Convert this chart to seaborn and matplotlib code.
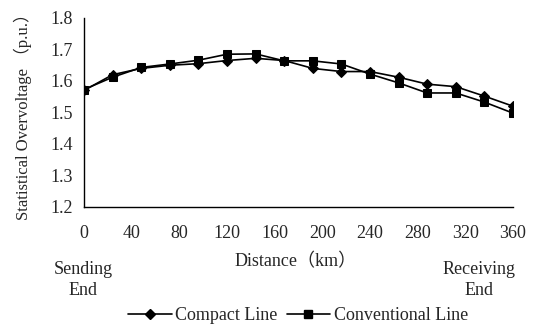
import matplotlib
matplotlib.use("Agg")
import matplotlib.pyplot as plt
import seaborn as sns
import pandas as pd
from matplotlib.lines import Line2D

distance = [0, 24, 48, 72, 96, 120, 144, 168, 192, 216, 240, 264, 288, 312, 336, 360]
compact = [1.570, 1.620, 1.640, 1.650, 1.655, 1.665, 1.672, 1.665, 1.640, 1.630,
           1.630, 1.612, 1.590, 1.582, 1.552, 1.520]
conventional = [1.573, 1.612, 1.643, 1.654, 1.666, 1.685, 1.686, 1.664, 1.664, 1.654,
                1.622, 1.594, 1.562, 1.562, 1.533, 1.498]
series_names = ["Compact Line", "Conventional Line"]
x_ticks = [0, 40, 80, 120, 160, 200, 240, 280, 320, 360]
y_ticks = [1.2, 1.3, 1.4, 1.5, 1.6, 1.7, 1.8]

df = pd.concat([
    pd.DataFrame({"Distance": distance, "V": compact, "Line": series_names[0]}),
    pd.DataFrame({"Distance": distance, "V": conventional, "Line": series_names[1]}),
])

sns.set_style("white")
plt.rcParams["font.family"] = ["Liberation Serif", "Noto Sans CJK SC", "DejaVu Sans"]
FS = 13
plt.rcParams["font.size"] = FS

fig = plt.figure(figsize=(5.43, 3.30), dpi=100)
ax = fig.add_axes([84/543, 1-207/330, (513-84)/543, (207-18)/330])

sns.lineplot(data=df, x="Distance", y="V", hue="Line", style="Line",
             markers={"Compact Line": "D", "Conventional Line": "s"},
             dashes=False, palette=["black", "black"], linewidth=1.2,
             markersize=6, markeredgecolor="black", ax=ax, legend=False)
for ln in ax.lines:
    if ln.get_marker() == "D":
        ln.set_markersize(5)

ax.set_xlim(0, 360)
ax.set_ylim(1.2, 1.8)
ax.set_xticks(x_ticks)
ax.set_yticks(y_ticks)
ax.set_yticklabels([f"{v:.1f}" for v in y_ticks])
ax.tick_params(axis="x", direction="in", length=4, pad=13, labelsize=FS, color="#555555")
ax.tick_params(axis="y", direction="in", length=4, pad=8, labelsize=FS, color="#555555")
for s in ["top", "right"]:
    ax.spines[s].set_visible(False)
for s in ["left", "bottom"]:
    ax.spines[s].set_color("black")
    ax.spines[s].set_linewidth(1.0)
ax.set_xlabel("")
ax.set_ylabel("Statistical Overvoltage （p.u.）", fontsize=12, labelpad=13)

fig.text(296/543, 1-262/330, "Distance（km）", ha="center", va="center", fontsize=FS)
fig.text(83/543, 1-280/330, "Sending\nEnd", ha="center", va="center", fontsize=FS, linespacing=1.35)
fig.text(479/543, 1-280/330, "Receiving\nEnd", ha="center", va="center", fontsize=FS, linespacing=1.35)

handles = [Line2D([], [], color="black", marker="D", markersize=5, linewidth=1.2),
           Line2D([], [], color="black", marker="s", markersize=6, linewidth=1.2)]
fig.legend(handles, series_names, loc="center", bbox_to_anchor=(298/543, 1-316/330),
           ncol=2, frameon=False, fontsize=FS, handlelength=2.4, handletextpad=0.2,
           columnspacing=0.5, borderpad=0)

fig.savefig("out.png", dpi=100)
